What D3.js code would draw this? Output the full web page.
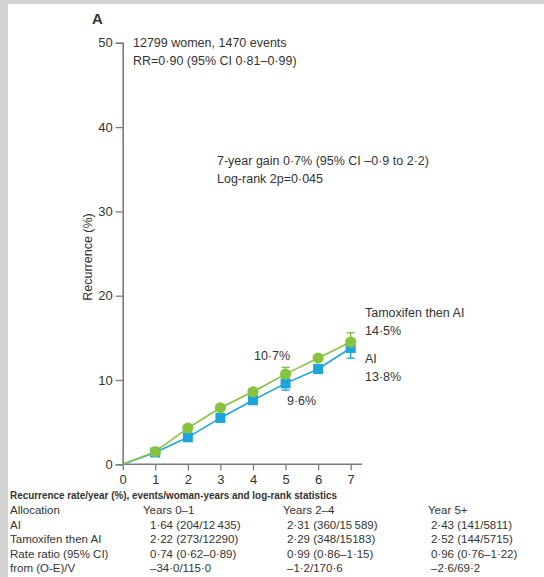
<!DOCTYPE html>
<html><head><meta charset="utf-8">
<script src="https://cdn.jsdelivr.net/npm/d3@7"></script>
<style>
html,body{margin:0;padding:0;background:#fff;}
svg{display:block;}
text{font-family:"Liberation Sans",Arial,sans-serif;fill:#333;}
</style></head>
<body>
<script>
const years = [0,1,2,3,4,5,6,7];
const tamThenAI = [0,1.5,4.3,6.7,8.6,10.7,12.6,14.5];
const aiOnly = [0,1.4,3.2,5.5,7.6,9.6,11.3,13.8];
const errYears = [5,7];
const tamUpper = [11.5,15.6];
const aiLower = [8.8,12.6];
const yTicks = [0,10,20,30,40,50];
const xTicks = [0,1,2,3,4,5,6,7];
const tableTitle = "Recurrence rate/year (%), events/woman-years and log-rank statistics";
const tableHeader = ["Allocation","Years 0–1","Years 2–4","Year 5+"];
const tableRows = [
  ["AI","1·64 (204/12\u2009435)","2·31 (360/15\u2009589)","2·43 (141/5811)"],
  ["Tamoxifen then AI","2·22 (273/12290)","2·29 (348/15183)","2·52 (144/5715)"],
  ["Rate ratio (95% CI)","0·74 (0·62–0·89)","0·99 (0·86–1·15)","0·96 (0·76–1·22)"],
  ["from (O-E)/V","–34·0/115·0","–1·2/170·6","–2·6/69·2"]
];

const W=544,H=577;
const svg=d3.select("body").append("svg").attr("width",W).attr("height",H);
svg.append("rect").attr("width",W).attr("height",H).attr("fill","#d3d3d3");
svg.append("rect").attr("x",8).attr("y",4).attr("width",W-8).attr("height",H-4).attr("fill","#fff");

const x=d3.scaleLinear().domain([0,7]).range([122.7,350.7]);
const y=d3.scaleLinear().domain([0,50]).range([464.3,42.8]);
const axisCol="#7a7a7a";
const green="#86c440", blue="#1da4dc";

// y axis
const ya=svg.append("g").attr("transform",`translate(${x(0)},0)`)
  .call(d3.axisLeft(y).tickValues(yTicks).tickSize(7).tickPadding(3).tickFormat(d3.format("d")));
ya.select(".domain").attr("stroke",axisCol).attr("stroke-width",1.6);
ya.selectAll(".tick line").attr("stroke",axisCol).attr("stroke-width",1.3);
ya.selectAll(".tick text").attr("font-size",13).attr("fill","#444").attr("font-family","Liberation Sans, Arial, sans-serif");

// x axis
const xa=svg.append("g").attr("transform",`translate(0,${y(0)})`)
  .call(d3.axisBottom(x).tickValues(xTicks).tickSize(6).tickPadding(4).tickSizeOuter(0).tickFormat(d3.format("d")));
xa.select(".domain").attr("d",`M${x(0)},0H${x(7.35)}`).attr("stroke",axisCol).attr("stroke-width",1.6);
xa.selectAll(".tick line").attr("stroke",axisCol).attr("stroke-width",1.3);
xa.selectAll(".tick text").attr("font-size",13).attr("fill","#444").attr("font-family","Liberation Sans, Arial, sans-serif");

// lines
const line=d3.line().x((d,i)=>x(years[i])).y(d=>y(d));
svg.append("path").attr("d",line(aiOnly)).attr("fill","none").attr("stroke",blue).attr("stroke-width",1.6);
svg.append("path").attr("d",line(tamThenAI)).attr("fill","none").attr("stroke",green).attr("stroke-width",1.6);

// error bars
errYears.forEach((yr,i)=>{
  const i2=years.indexOf(yr);
  const g=svg.append("g").attr("stroke",green).attr("stroke-width",1.4);
  g.append("line").attr("x1",x(yr)).attr("x2",x(yr)).attr("y1",y(tamThenAI[i2])).attr("y2",y(tamUpper[i]));
  g.append("line").attr("x1",x(yr)-4).attr("x2",x(yr)+4).attr("y1",y(tamUpper[i])).attr("y2",y(tamUpper[i]));
  const b=svg.append("g").attr("stroke",blue).attr("stroke-width",1.4);
  b.append("line").attr("x1",x(yr)).attr("x2",x(yr)).attr("y1",y(aiOnly[i2])).attr("y2",y(aiLower[i]));
  b.append("line").attr("x1",x(yr)-4).attr("x2",x(yr)+4).attr("y1",y(aiLower[i])).attr("y2",y(aiLower[i]));
});

// markers
const s=10;
svg.selectAll("rect.ai").data(aiOnly.slice(1)).enter().append("rect")
  .attr("x",(d,i)=>x(years[i+1])-s/2).attr("y",d=>y(d)-s/2).attr("width",s).attr("height",s).attr("fill",blue);
svg.selectAll("circle.tam").data(tamThenAI.slice(1)).enter().append("circle")
  .attr("cx",(d,i)=>x(years[i+1])).attr("cy",d=>y(d)).attr("r",5.6).attr("fill",green);

// texts
function t(str,xx,yy,opts={}){
  const e=svg.append("text").attr("x",xx).attr("y",yy).text(str).attr("font-size",opts.size||12.5);
  if(opts.weight) e.attr("font-weight",opts.weight);
  if(opts.anchor) e.attr("text-anchor",opts.anchor);
  if(opts.fill) e.attr("fill",opts.fill);
  return e;
}
t("A",92,24,{size:15,weight:"bold"});
t("12799 women, 1470 events",133,47);
t("RR=0·90 (95% CI 0·81–0·99)",133,65);
t("7-year gain 0·7% (95% CI –0·9 to 2·2)",217,165);
t("Log-rank 2p=0·045",217,183);
t("Tamoxifen then AI",365,317);
t("14·5%",365,335);
t("AI",365,363);
t("13·8%",365,381);
t("10·7%",254,360);
t("9·6%",287,405);
svg.append("text").attr("transform","translate(92,257) rotate(-90)").attr("text-anchor","middle")
  .attr("font-size",12.5).attr("fill","#444").text("Recurrence (%)");

// table
t(tableTitle,10,499,{size:11.5,weight:"bold"}).attr("textLength",327).attr("lengthAdjust","spacingAndGlyphs");
const colX=[10,143,283,428];
const valX=[10,150,287,431];
const rowY=[514,528.5,543,557.5,571.5];
tableHeader.forEach((h,j)=>t(h,colX[j],rowY[0],{size:11.5}));
tableRows.forEach((r,i)=>r.forEach((c,j)=>t(c,valX[j],rowY[i+1],{size:11.5})));
</script>
</body></html>
